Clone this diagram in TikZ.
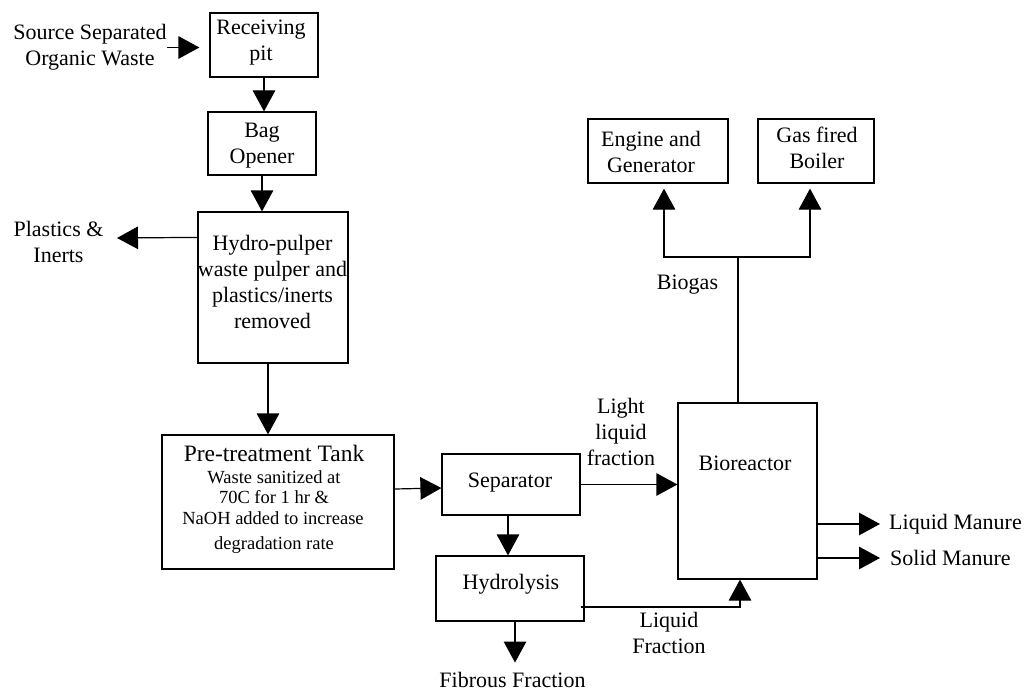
\documentclass[tikz,border=0pt]{standalone}
\usepackage{fontspec}
\setmainfont{Liberation Serif}
\usetikzlibrary{arrows.meta}
\begin{document}
\begin{tikzpicture}[x=1pt,y=-1pt,
  box/.style={draw, line width=1.2pt, inner sep=0pt},
  txt/.style={font=\fontsize{22}{26}\selectfont, align=center, inner sep=0pt},
  small/.style={font=\fontsize{18.5}{21}\selectfont, inner sep=0pt},
  arr/.style={line width=1.2pt, -{Triangle[length=21pt,width=22.5pt]}},
  ln/.style={line width=1.2pt}]
\useasboundingbox (0,0) rectangle (1025,690);

% process boxes
\node[box, minimum width=108pt, minimum height=64pt]  (recv)  at (264,45)    {};
\node[box, minimum width=108pt, minimum height=63pt]  (bag)   at (262,143.5) {};
\node[box, minimum width=150pt, minimum height=151pt] (hydro) at (273,287.5) {};
\node[box, minimum width=232pt, minimum height=134pt] (pre)   at (278,502)   {};
\node[box, minimum width=138pt, minimum height=61pt]  (sep)   at (511,484.5) {};
\node[box, minimum width=148pt, minimum height=65pt]  (hyd)   at (510,588.5) {};
\node[box, minimum width=139pt, minimum height=176pt] (bio)   at (747.5,491) {};
\node[box, minimum width=140pt, minimum height=64pt]  (eng)   at (658,151)   {};
\node[box, minimum width=116pt, minimum height=64pt]  (gas)   at (816,151)   {};

% box texts
\node[txt] (recvt)  at (261,43)    {Receiving\\pit};
\node[txt] (bagt)   at (262,146)   {Bag\\Opener};
\node[txt] (hydrot) at (272.5,282) {Hydro-pulper\\waste pulper and\\plastics/inerts\\removed};
\node[txt, font=\fontsize{23.5}{26}\selectfont] (pret) at (274,453) {Pre-treatment Tank};
\node[small] (pre1) at (274,477)   {Waste sanitized at};
\node[small] (pre2) at (274,497)   {70C for 1 hr \&};
\node[small] (pre3) at (273,518.5) {NaOH added to increase};
\node[small] (pre4) at (274,545)   {degradation rate};
\node[txt] (sept)   at (510,483)   {Separator};
\node[txt] (hydt)   at (511,584.5) {Hydrolysis};
\node[txt] (biot)   at (745,463)   {Bioreactor};
\node[txt] (engt)   at (651,152)   {Engine and\\Generator};
\node[txt] (gast)   at (817,148)   {Gas fired\\Boiler};

% stream labels
\node[txt] (src)    at (90,47.5)   {Source Separated\\Organic Waste};
\node[txt] (plast)  at (58.5,242)  {Plastics \&\\Inerts};
\node[txt] (fib)    at (512.5,679.5) {Fibrous Fraction};
\node[txt] (light)  at (621,432)   {Light\\liquid\\fraction};
\node[txt] (liqfr)  at (669,633)   {Liquid\\Fraction};
\node[txt] (biogas) at (687.5,285) {Biogas};
\node[txt, anchor=west, inner xsep=9pt] (liqman) at (880,524) {Liquid Manure};
\node[txt, anchor=west, inner xsep=10pt] (solman) at (880,558) {Solid Manure};

\coordinate (plastin) at (117,238);
\coordinate (split) at (738,257);

% connectors
\draw[arr, shorten >=10pt] (src.east) -- (src.east -| recv.west);
\draw[arr] (recv.south) -- (recv.south |- bag.north);
\draw[arr] (bag.south) -- (bag.south |- hydro.north);
\draw[arr] ([yshift=-26pt]hydro.north west) -- (plastin);
\draw[arr] ([xshift=-5pt]hydro.south) -- ([xshift=-10pt]pre.north);
\draw[arr] ([yshift=13pt]pre.east) -- ([yshift=-3.5pt]sep.west);
\draw[arr] ([xshift=-3pt]sep.south) -- ([xshift=-3pt]sep.south |- hyd.north);
\draw[arr, shorten >=9pt] ([xshift=5pt]hyd.south) -- ([xshift=5pt]hyd.south |- fib.north);
\draw[arr] (sep.east) -- (sep.east -| bio.west);
\draw[arr] ([xshift=-4pt,yshift=-18.5pt]hyd.east) -| ([xshift=-7.5pt]bio.south);
\draw[ln] ([xshift=-9.5pt]bio.north) -- (split);
\draw[arr] (split) -| ([xshift=6pt,yshift=-5pt]eng.south);
\draw[arr] (split) -| ([xshift=-6pt,yshift=-5pt]gas.south);
\draw[arr] ([xshift=-2pt,yshift=-33pt]bio.east) -- (liqman.west);
\draw[arr] ([yshift=-67pt]bio.east) -- (solman.west);
\end{tikzpicture}
\end{document}
